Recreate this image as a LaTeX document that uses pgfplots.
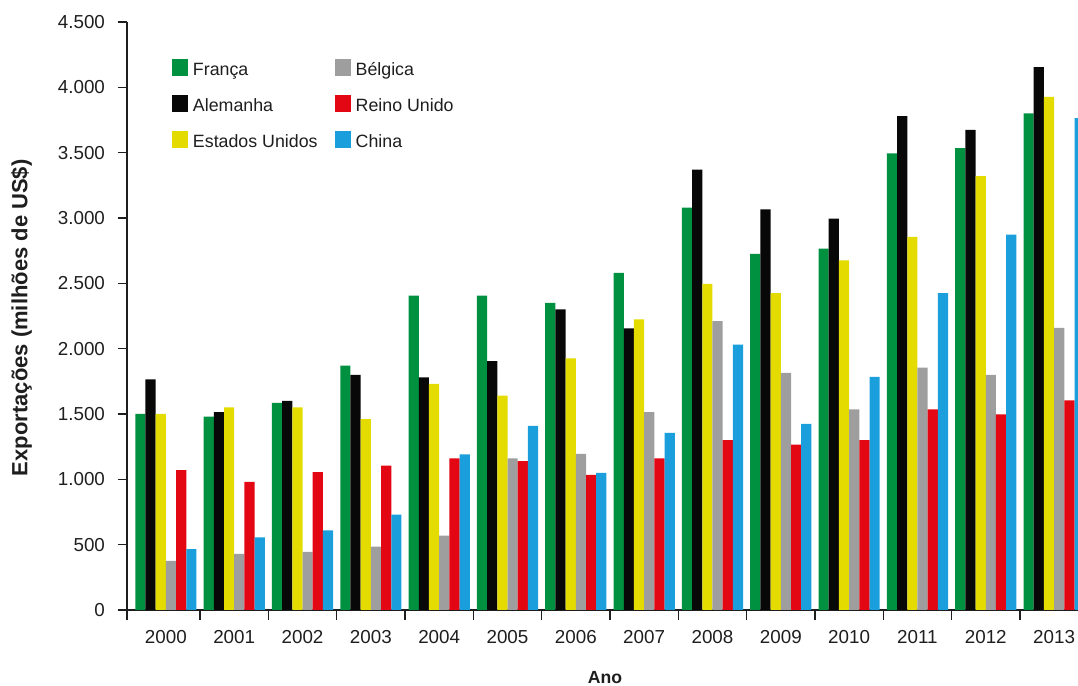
\documentclass[border=0pt]{standalone}
\usepackage{pgfplots}
\usepackage{pgfplotstable}
\pgfplotsset{compat=1.18}
\usepackage{fontspec}
\setmainfont{Liberation Sans}

\definecolor{cFr}{RGB}{0,145,64}
\definecolor{cAl}{RGB}{8,8,8}
\definecolor{cEU}{RGB}{228,219,0}
\definecolor{cBe}{RGB}{158,158,158}
\definecolor{cRU}{RGB}{227,6,19}
\definecolor{cCn}{RGB}{26,158,220}
\definecolor{txt}{RGB}{30,30,30}

% Exportações por país (milhões de US$); ano 2000 = 0
\pgfplotstableread{
ano Fr   Al   EU   Be   RU   Cn
0   1500 1765 1500 375  1070 465
1   1480 1515 1550 430  980  555
2   1585 1600 1550 445  1055 610
3   1870 1800 1460 485  1105 730
4   2405 1780 1730 570  1160 1190
5   2405 1905 1640 1160 1140 1410
6   2350 2300 1925 1195 1035 1050
7   2580 2155 2225 1515 1160 1355
8   3080 3370 2495 2210 1300 2030
9   2725 3065 2425 1815 1265 1425
10  2765 2995 2675 1535 1300 1785
11  3495 3780 2855 1855 1535 2425
12  3535 3675 3320 1800 1497 2872
13  3800 4155 3927 2160 1605 3765
}\dados

\pgfplotsset{sq legend/.style={legend image code/.code={%
  \fill[##1,draw=none] (0pt,-4.25pt) rectangle (8pt,4.25pt);}}}

\begin{document}
\begin{tikzpicture}
\begin{axis}[
  name=ax,
  scale only axis, width=475.5pt, height=294pt,
  xmin=-0.569, xmax=13.35, ymin=0, ymax=4500,
  ybar=0pt, bar width=5.1pt,
  axis x line*=bottom, axis y line*=left,
  axis line style={draw=txt, line width=0.6pt},
  tick align=outside,
  major tick length=4.5pt, minor tick length=5pt,
  tick style={draw=txt, line width=0.6pt},
  xtick={0,...,13},
  xticklabels={2000,2001,2002,2003,2004,2005,2006,2007,2008,2009,2010,2011,2012,2013},
  major x tick style={draw=none},
  minor xtick={-0.569,0.5,1.5,2.5,3.5,4.5,5.5,6.5,7.5,8.5,9.5,10.5,11.5,12.5},
  ytick={0,500,...,4500},
  /pgf/number format/1000 sep={.},
  /pgf/number format/assume math mode=true,
  ticklabel style={font=\fontsize{9.4}{11}\selectfont, text=txt},
  xticklabel style={anchor=center, yshift=-9pt},
  yticklabel style={anchor=east, xshift=-3pt},
  ylabel={Exportações (milhões de US\$)},
  ylabel style={at={(axis description cs:-0.111,0.497)}, anchor=center,
    font=\fontsize{11}{13}\selectfont\bfseries, text=txt},
  xlabel={Ano},
  xlabel style={at={(axis description cs:0.5026,-0.1156)}, anchor=center,
    font=\fontsize{8.8}{10}\selectfont\bfseries, text=txt},
  legend columns=3, transpose legend,
  legend cell align=left,
  legend style={at={(axis description cs:0.0473,0.9371)}, anchor=north west,
    draw=none, fill=none, inner sep=0pt, outer sep=0pt, row sep=9.4pt,
    font=\fontsize{8.9}{10}\selectfont, text=txt,
    nodes={inner sep=0pt, text height=8.5pt, text depth=0pt},
    /tikz/every odd column/.append style={column sep=2.5pt},
    /tikz/every even column/.append style={column sep=8.5pt}},
]
\addplot[fill=cFr, draw=none, sq legend] table[x=ano, y=Fr] {\dados};
\addplot[fill=cAl, draw=none, sq legend] table[x=ano, y=Al] {\dados};
\addplot[fill=cEU, draw=none, sq legend] table[x=ano, y=EU] {\dados};
\addplot[fill=cBe, draw=none, sq legend] table[x=ano, y=Be] {\dados};
\addplot[fill=cRU, draw=none, sq legend] table[x=ano, y=RU] {\dados};
\addplot[fill=cCn, draw=none, sq legend] table[x=ano, y=Cn] {\dados};
\legend{França, Alemanha, Estados Unidos, Bélgica, Reino Unido, China}
\end{axis}
\pgfresetboundingbox
\path[use as bounding box]
  ([xshift=-63.5pt, yshift=-38pt]ax.south west) rectangle
  ([yshift=11pt]ax.north east);
\end{tikzpicture}
\end{document}
